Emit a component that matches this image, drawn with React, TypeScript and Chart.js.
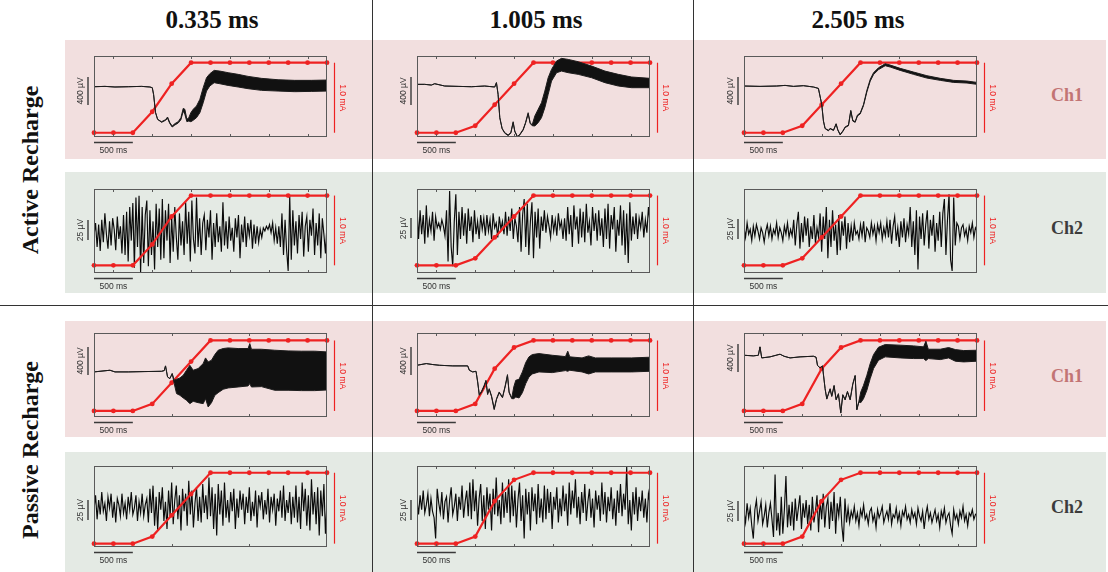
import React, { useEffect, useRef } from "react";
import { Chart, registerables } from "chart.js";

Chart.register(...registerables);

// ---------------- text ----------------
const columnTitles = ["0.335 ms", "1.005 ms", "2.505 ms"];
const rowTitles = ["Active Recharge", "Passive Recharge"];
const channelNames = ["Ch1", "Ch2"];
const barLabelCh1 = "400 µV";
const barLabelCh2 = "25 µV";
const barLabelTime = "500 ms";
const barLabelCurrent = "1.0 mA";
const barValueCh1 = 400; // µV
const barValueCh2 = 25; // µV
const barValueTime = 500; // ms
const barValueCurrent = 1.0; // mA

// ---------------- stimulation ramp (mA), marker every 250 ms ----------------
const rampTimesMs = [0, 250, 500, 750, 1000, 1250, 1500, 1750, 2000, 2250, 2500, 2750, 3000];
const rampActiveShort = [0, 0, 0, 0.3, 0.7, 1, 1, 1, 1, 1, 1, 1, 1];
const rampMedium = [0, 0, 0, 0.1, 0.4, 0.7, 1, 1, 1, 1, 1, 1, 1];
const rampPassiveLong = [0, 0, 0, 0.1, 0.6, 0.9, 1, 1, 1, 1, 1, 1, 1];

const ticksOdd = [250, 750, 1250, 1750, 2250, 2750];
const ticksSecond = [1000, 2000];

// ---------------- Ch1 traces: time (ms), upper / lower envelope (µV above box floor) ----------------
const ch1ActiveA_t = [0, 141, 270, 441, 613, 720, 750, 767, 793, 819, 870, 921, 947, 977, 1007, 1041, 1084, 1119, 1149, 1170, 1196, 1221, 1247, 1277, 1320, 1363, 1406, 1449, 1491, 1547, 1620, 1727, 1856, 1984, 2156, 2370, 2584, 2799, 3000];
const ch1ActiveA_hi = [720, 725, 716, 720, 725, 716, 706, 611, 348, 253, 219, 248, 286, 205, 157, 191, 219, 277, 410, 396, 253, 277, 348, 396, 444, 539, 706, 849, 906, 954, 944, 921, 897, 868, 840, 820, 811, 811, 816];
const ch1ActiveA_lo = [720, 725, 716, 720, 725, 716, 706, 611, 348, 253, 210, 239, 267, 191, 143, 172, 200, 248, 372, 324, 219, 229, 219, 239, 277, 348, 491, 658, 730, 778, 763, 739, 716, 692, 668, 658, 649, 653, 658];

const ch1ActiveB_t = [0, 99, 185, 228, 357, 529, 701, 872, 1001, 1023, 1044, 1066, 1096, 1130, 1173, 1208, 1238, 1259, 1294, 1324, 1367, 1397, 1431, 1457, 1483, 1517, 1560, 1603, 1646, 1689, 1732, 1797, 1861, 1947, 2076, 2248, 2420, 2592, 2764, 3000];
const ch1ActiveB_hi = [754, 754, 744, 763, 730, 725, 720, 730, 716, 778, 611, 277, 124, 62, 29, 62, 219, 86, 5, 38, 110, 205, 348, 205, 172, 300, 396, 491, 658, 849, 968, 1088, 1126, 1111, 1078, 1016, 944, 897, 859, 840];
const ch1ActiveB_lo = [754, 754, 744, 763, 730, 725, 720, 730, 716, 778, 611, 277, 118, 55, 20, 55, 205, 76, 0, 30, 100, 195, 330, 195, 162, 157, 205, 277, 420, 611, 801, 921, 944, 921, 897, 849, 778, 730, 706, 706];

const ch1ActiveC_t = [0, 206, 421, 529, 636, 765, 894, 958, 1001, 1023, 1044, 1087, 1109, 1152, 1186, 1208, 1238, 1272, 1302, 1345, 1375, 1401, 1431, 1461, 1496, 1539, 1582, 1625, 1668, 1732, 1818, 1883, 2011, 2183, 2355, 2527, 2699, 2871, 3000];
const ch1ActiveC_hi = [730, 725, 730, 739, 725, 735, 716, 696, 467, 229, 124, 95, 124, 100, 191, 105, 38, 86, 143, 172, 382, 239, 219, 315, 343, 467, 668, 825, 921, 992, 1049, 1030, 983, 930, 878, 840, 811, 801, 782];
const ch1ActiveC_lo = [730, 725, 730, 739, 725, 735, 716, 696, 467, 229, 120, 88, 117, 93, 182, 98, 30, 78, 135, 162, 368, 228, 210, 302, 330, 450, 645, 800, 895, 965, 1021, 1002, 954, 897, 844, 811, 782, 773, 754];

const ch1PassiveA_t = [0, 206, 270, 441, 656, 870, 904, 921, 947, 977, 1007, 1033, 1063, 1106, 1149, 1191, 1234, 1277, 1341, 1406, 1436, 1470, 1513, 1556, 1599, 1663, 1727, 1856, 1984, 2006, 2027, 2156, 2327, 2499, 2670, 2842, 3000];
const ch1PassiveA_hi = [644, 668, 644, 644, 649, 653, 663, 730, 572, 549, 620, 525, 539, 558, 596, 668, 739, 668, 692, 763, 844, 787, 811, 892, 954, 978, 987, 978, 978, 1049, 968, 968, 954, 944, 940, 940, 930];
const ch1PassiveA_lo = [644, 668, 644, 644, 649, 653, 663, 730, 572, 549, 620, 477, 334, 310, 272, 239, 191, 224, 205, 191, 262, 143, 205, 310, 348, 396, 415, 429, 444, 477, 429, 434, 382, 382, 377, 377, 386];

const ch1PassiveB_t = [0, 119, 205, 290, 461, 653, 674, 717, 760, 781, 802, 832, 862, 888, 909, 930, 960, 994, 1024, 1058, 1101, 1135, 1165, 1186, 1220, 1246, 1272, 1314, 1357, 1400, 1442, 1485, 1570, 1741, 1912, 1941, 1967, 2125, 2210, 2296, 2509, 2765, 3000];
const ch1PassiveB_hi = [739, 763, 749, 739, 730, 730, 668, 644, 653, 501, 320, 367, 444, 525, 334, 405, 301, 119, 262, 358, 286, 444, 606, 358, 272, 429, 525, 539, 644, 778, 859, 892, 906, 882, 863, 940, 859, 844, 873, 844, 844, 844, 854];
const ch1PassiveB_lo = [739, 763, 749, 739, 730, 730, 668, 644, 653, 501, 310, 355, 430, 510, 320, 392, 290, 105, 250, 345, 275, 430, 590, 345, 262, 262, 286, 272, 348, 477, 572, 615, 644, 634, 663, 653, 668, 644, 615, 644, 644, 644, 653];

const ch1PassiveC_t = [0, 120, 185, 206, 228, 335, 464, 516, 593, 722, 894, 928, 946, 980, 1010, 1044, 1066, 1087, 1109, 1130, 1160, 1186, 1216, 1246, 1272, 1302, 1332, 1367, 1401, 1431, 1453, 1479, 1504, 1539, 1582, 1625, 1668, 1732, 1818, 2011, 2183, 2312, 2342, 2373, 2527, 2635, 2721, 2828, 3000];
const ch1PassiveC_hi = [882, 873, 882, 1002, 844, 859, 897, 868, 844, 859, 868, 854, 739, 701, 730, 405, 262, 334, 405, 301, 453, 253, 334, 62, 320, 253, 367, 253, 477, 596, 110, 224, 358, 453, 596, 763, 892, 997, 1035, 1026, 1016, 1002, 1083, 968, 968, 992, 963, 949, 954];
const ch1PassiveC_lo = [882, 873, 882, 1002, 844, 859, 897, 868, 844, 859, 868, 854, 739, 701, 730, 405, 255, 325, 395, 292, 440, 243, 325, 55, 310, 243, 355, 243, 465, 585, 100, 214, 205, 262, 382, 549, 692, 811, 859, 844, 835, 835, 806, 835, 820, 844, 797, 787, 797];

// ---------------- Ch2 traces (µV), evenly sampled over 0–3000 ms ----------------
const ch2ActiveA = [-6, 10, -20, 8, -25, 14, -14, 22, -4, -22, 12, -18, 16, 2, -24, 18, -10, 6, -28, 20,
  -30, 24, -38, 30, -12, 35, -46, 42, -20, 44, -52, 30, -40, 20, 38, -44, 26, -30, 12, -48, 34, -20, 28, -36, 40,
  -34, 26, -12, 34, -40, 18, -26, 30, -8, -36, 22, -18, 12, -30, 36, -16, 24, -38, 38, -10,
  -28, 42, -20, 16, -30, 10, 20, -24, 14, -8, 26, -36, 10, -20, 22, -14, 6, -26, 36, -18,
  12, -22, 18, -12, 4, -26, 16, -8, 20, -34, 8, -14, 18, -20, 10, -6, 14, -22, 8, -16,
  6, -14, 2, -8, 4, 0, 6, 2, 8, -2, 10, -12, 4, -16, 6,
  -20, 22, -30, 14, -24, -50, 44, -36, 26, -18,
  12, -28, 20, -10, 24, -32, 6, 18, -26, 14, -6, 28, -30, 10, -18, 22, -34, 16, -4, -28, 8];
const ch2ActiveB = [30, -10, 26, -4, 20, -16, 32, -8, 14, 0, 24, -12, 18, 4,
  10, 2, 14, 6,
  -6, 26, -38, 50, -20, -44, 12, 46, -30, 24,
  -10, 30, -6, 22, -16, 28, 0, 18, -14, 26, -4, 12, -10, 20,
  2, 16, -6, 20, 0, 14, -10, 22, 4, 10, -8, 18, 2, 12, -4,
  24, -6, 18, 0, 28, -10, 16, 6,
  -14, 30, -26, 20, 40, -20, 34, -30, 12, 36, -34, 24, -8, 28, -22, 18, 0, 26,
  -2, 18, 6, -8, 20, 0, 14, -6, 22, 4, 12, -10, 16,
  -12, 30, -4, 20, -20, 32, 2, 18, -16, 28, -8, 24, -14, 34, -2, 12, -18, 30, 0, 22, -12, 26, -6, 16, -20, 28,
  -10, 34, -22, 20, 2, 30, -26, 14, -6, 32, -18, 26, -30, 22, -40, 36, -12, 18,
  -4, 22, -10, 16, 4, 24, -8, 14, -2, 30, 10];
const ch2ActiveC = [4, -8, 10, -4, 2, -12, 6, -6, 8, 0, -10, 4, -2, -14, 0, 8, -6, 6, -10, 2, -4, 10, -8, 4, -2, -12, 6, -4, 10, -8, 2, -6,
  14, -18, 8, 24, -22, 10, -14, 18, -6, 16, -20, 6, -10, 20, -16, 4, -8,
  22, -26, 18, -10, 30, -34, 14, -20, 26, -12, 8, -30, 20, -24, 12, -6, 18, -22, 10, -14,
  6, -12, 10, -4, 0, -10, 8, -6, 12, -14, 4, 0, -8, 10, -4, 6, -12, 8, -2, 10, -10, 4, -6, 12, -8,
  14, -16, 6, 18, -12, 4, -20, 12, -8, 16, -14, 8, -4,
  30, -20, 12, -30, 26, -48, 18,
  -10, 22, -18, 8, 26, -22, 14, -6, 20, -26, 10, -12, 24,
  -20, 22, 40, -30, 14, 46, -36, -50, 42, -18, 10,
  6, -10, 4, 8, -6, 2, -12, 6, -2, 10, -8, 4, 0];
const ch2PassiveA = [-4, 14, -16, 8, -10, 18, -6, 4, -18, 12, -2, 16, -14, 6, -20, 10, 2, -12, 16, -8, 4, -16, 12, -4, 18, -10, -2, 14, -18, 6, -8, 16, -12, 2, 10,
  -20, 22, -8, 26, -24, 12, -30, 18, -4, 24, -18, 6, -28, 20, -12, 30, -22, 8, 26, -16, 14, -30, 22, -6, 16, -24, 32, -10, 20, -26, 4, 24, -18, 12, -20, 28, -8, 14,
  -16, 36, -12, 24, -28, 16, -36, 28, -10, 20, -24, 30, -14, 8,
  -20, 18, -6, 22, -28, 10, -14, 20, -4, 16, -22, 12, -8, 24, -18, 6, -12, 20, -26, 14, 0, 18, -16, 8, -10, 22, -20, 12, -4, 16, -24, 10, -6, 20, -14, 26, -18, 8, -8, 18, -22, 12,
  -14, 26, -20, 12, -28, 30, -6, 22, -24, 14, -30, 34, -10, 18, -22, 24, -36, 20, -12, 28, -34, 6];
const ch2PassiveB = [8, -10, 14, -4, 20, -8, 2, 16, -12, 10, -6, -14, -40, 22, 4, -8, 18, -16, 6, 12, -20, 8, 24, -10, 0, 16, -18, 12, -4, 26, -14, 6, 20, -12,
  30, -16, 34, -6, 20, -24, 10, 28, -18, 14, -28, 24, -4, 16, -30, 22, -10, 36, -12, 8, -22, 30, -14, 18, -8, 34, -20, 26,
  -12, 20, -26, 8, 30, -18, 14, -40, 22, -10, 18, -30, 24, -6, 16, -22, 28, -14, 10, -20, 26,
  -16, 22, -8, 18, -28, 12, -4, 24, -20, 10, -12, 26, -6, 16, -24, 30, -10, 20, -2, 34, -14, 12, -22, 18, -8, 28, -18, 6, 22, -14, 10, -26, 20, -4, 14, -18, 30, -10,
  18, -20, 12, -6, 24, -16, 10, -24, 20, -8, 28, -12, 16, -4, 50, -22, 8, -30, 18, -10, 24, -18, 12, -6, 20, -14, 10, -20, 16, 4];
const ch2PassiveC = [-6, -20, 4, -14, -2, -24, -40, -4, 8, -18, -6, 6, -22, -12, 2, -26, -8, 4, -16,
  -38, 40, -30, -8, -36, 12, -34, -4, 38, -26, 2,
  -24, 6, -30, 10, -18, -2, 14, -28, 4, -14, 8, -22,
  2, -30, 12, -20, -6, 14, -32, 8, -16, 16, -26, 0, 10, -28, 6, -18, 18, -34, 4, -12, 12, -24, -44, 10, -20,
  -2, -20, -6, -14, 0, -18, -8, -24, -4, -12, 2, -16, -10, -22, -6, -2, -18, -10, -26, -4, -14, -8, 0, -20, -12, -6, -16, 4, -22, -10, -14, -2, -18, -8, -24, -6, -12, 0, -16, -10, -20, -4, -14, -8, -22, -2, -12, -18, -6, -28, -10, 0, -16, -8, -20, -12, -4, -18, -10, -26, -6, -14, -2, -20, -12, -8, -24, -34, -4, -16, -10, -22, -6, -14, 0, -18, -10, -24, -8, -12, -4, -16, -10, -8];

// ---------------- layout ----------------
const COL_LEFT = [94, 417, 744];
const ROW_TOP = [56, 189, 333, 466];
const ROW_H = [81, 84, 84, 81];
const BOX_W = 233;
const PAD_L = 32, PAD_R = 32, PAD_T = 6, PAD_B = 22;
const RED = "#ee2222";
const PINK = "#f2dfdf";
const GREEN = "#e4eae4";

type PanelSpec = {
  col: number; row: number;
  kind: "ch1" | "ch2";
  t?: number[]; hi?: number[]; lo?: number[];
  trace?: number[];
  ramp: number[];
  ticks: number[];
  yMin: number; yMax: number;
  rMin: number; rMax: number;
  barTop: number;
};

const R1: [number, number] = [-0.061, 1.096];
const R2: [number, number] = [-0.11, 1.094];
const R3: [number, number] = [-0.086, 1.106];
const R4: [number, number] = [-0.047, 1.095];

const panels: PanelSpec[] = [
  { col: 0, row: 0, kind: "ch1", t: ch1ActiveA_t, hi: ch1ActiveA_hi, lo: ch1ActiveA_lo, ramp: rampActiveShort, ticks: ticksOdd, yMin: 0, yMax: 1160, rMin: R1[0], rMax: R1[1], barTop: 21 },
  { col: 1, row: 0, kind: "ch1", t: ch1ActiveB_t, hi: ch1ActiveB_hi, lo: ch1ActiveB_lo, ramp: rampMedium, ticks: ticksOdd, yMin: 0, yMax: 1160, rMin: R1[0], rMax: R1[1], barTop: 21 },
  { col: 2, row: 0, kind: "ch1", t: ch1ActiveC_t, hi: ch1ActiveC_hi, lo: ch1ActiveC_lo, ramp: rampMedium, ticks: ticksSecond, yMin: 0, yMax: 1160, rMin: R1[0], rMax: R1[1], barTop: 21 },
  { col: 0, row: 1, kind: "ch2", trace: ch2ActiveA, ramp: rampActiveShort, ticks: ticksOdd, yMin: -52.5, yMax: 52.5, rMin: R2[0], rMax: R2[1], barTop: 31 },
  { col: 1, row: 1, kind: "ch2", trace: ch2ActiveB, ramp: rampMedium, ticks: ticksOdd, yMin: -52.5, yMax: 52.5, rMin: R2[0], rMax: R2[1], barTop: 29 },
  { col: 2, row: 1, kind: "ch2", trace: ch2ActiveC, ramp: rampMedium, ticks: ticksSecond, yMin: -52.5, yMax: 52.5, rMin: R2[0], rMax: R2[1], barTop: 30 },
  { col: 0, row: 2, kind: "ch1", t: ch1PassiveA_t, hi: ch1PassiveA_hi, lo: ch1PassiveA_lo, ramp: rampMedium, ticks: ticksSecond, yMin: 0, yMax: 1200, rMin: R3[0], rMax: R3[1], barTop: 14 },
  { col: 1, row: 2, kind: "ch1", t: ch1PassiveB_t, hi: ch1PassiveB_hi, lo: ch1PassiveB_lo, ramp: rampPassiveLong, ticks: ticksOdd, yMin: 0, yMax: 1200, rMin: R3[0], rMax: R3[1], barTop: 14 },
  { col: 2, row: 2, kind: "ch1", t: ch1PassiveC_t, hi: ch1PassiveC_hi, lo: ch1PassiveC_lo, ramp: rampPassiveLong, ticks: ticksOdd, yMin: 0, yMax: 1200, rMin: R3[0], rMax: R3[1], barTop: 11 },
  { col: 0, row: 3, kind: "ch2", trace: ch2PassiveA, ramp: rampMedium, ticks: ticksSecond, yMin: -50.5, yMax: 50.5, rMin: R4[0], rMax: R4[1], barTop: 34 },
  { col: 1, row: 3, kind: "ch2", trace: ch2PassiveB, ramp: rampPassiveLong, ticks: ticksOdd, yMin: -50.5, yMax: 50.5, rMin: R4[0], rMax: R4[1], barTop: 34 },
  { col: 2, row: 3, kind: "ch2", trace: ch2PassiveC, ramp: rampPassiveLong, ticks: ticksOdd, yMin: -50.5, yMax: 50.5, rMin: R4[0], rMax: R4[1], barTop: 35 },
];

function Panel({ spec }: { spec: PanelSpec }) {
  const ref = useRef<HTMLCanvasElement | null>(null);
  const W = BOX_W + PAD_L + PAD_R;
  const H = ROW_H[spec.row] + PAD_T + PAD_B;
  const left = COL_LEFT[spec.col] - PAD_L;
  const top = ROW_TOP[spec.row] - PAD_T;

  useEffect(() => {
    const canvas = ref.current;
    if (!canvas) return;
    const datasets: any[] = [];
    if (spec.kind === "ch1") {
      const t = spec.t as number[];
      const lo = spec.lo as number[];
      const hi = spec.hi as number[];
      datasets.push({
        data: t.map((x, i) => ({ x, y: lo[i] })),
        borderColor: "#1c1c1c", borderWidth: 1, pointRadius: 0, fill: false,
        yAxisID: "yB", order: 1, tension: 0,
      });
      datasets.push({
        data: t.map((x, i) => ({ x, y: hi[i] })),
        borderColor: "#1c1c1c", borderWidth: 1, pointRadius: 0, fill: "-1",
        backgroundColor: "#111111", yAxisID: "yB", order: 1, tension: 0,
      });
    } else {
      const tr = spec.trace as number[];
      const dt = 3000 / (tr.length - 1);
      datasets.push({
        data: tr.map((y, i) => ({ x: i * dt, y })),
        borderColor: "#0a0a0a", borderWidth: 1.15, pointRadius: 0, fill: false,
        yAxisID: "yB", order: 2, tension: 0,
      });
    }
    datasets.push({
      data: rampTimesMs.map((x, i) => ({ x, y: spec.ramp[i] })),
      borderColor: RED, backgroundColor: RED, borderWidth: 2.2,
      pointRadius: 2.4, pointBorderWidth: 0, pointHoverRadius: 0,
      yAxisID: "yR", clip: false, fill: false, tension: 0,
      order: spec.kind === "ch1" ? 2 : 0,
    });

    const decor = {
      id: "decor",
      afterDatasetsDraw(chart: any) {
        const { ctx, chartArea: a, scales } = chart;
        const xs = scales.x, yB = scales.yB, yR = scales.yR;
        ctx.save();
        // frame
        ctx.strokeStyle = "#5a5a5a";
        ctx.lineWidth = 1;
        ctx.strokeRect(a.left + 0.5, a.top + 0.5, a.right - a.left - 1, a.bottom - a.top - 1);
        // inward ticks
        ctx.beginPath();
        for (const tv of spec.ticks) {
          const px = Math.round(xs.getPixelForValue(tv)) + 0.5;
          ctx.moveTo(px, a.top);
          ctx.lineTo(px, a.top + 3);
          ctx.moveTo(px, a.bottom);
          ctx.lineTo(px, a.bottom - 3);
        }
        ctx.stroke();

        ctx.font = "8.5px 'Liberation Sans', Arial, sans-serif";
        ctx.textAlign = "center";
        ctx.textBaseline = "middle";

        // amplitude bar
        const bv = spec.kind === "ch1" ? barValueCh1 : barValueCh2;
        const blen = yB.getPixelForValue(0) - yB.getPixelForValue(bv);
        const bx = a.left - 6;
        const by0 = a.top + spec.barTop;
        ctx.strokeStyle = "#3a3a3a";
        ctx.lineWidth = 1.4;
        ctx.beginPath();
        ctx.moveTo(bx, by0);
        ctx.lineTo(bx, by0 + blen);
        ctx.stroke();
        ctx.fillStyle = "#333333";
        ctx.save();
        ctx.translate(a.left - 13.5, by0 + blen / 2);
        ctx.rotate(-Math.PI / 2);
        ctx.fillText(spec.kind === "ch1" ? barLabelCh1 : barLabelCh2, 0, 0);
        ctx.restore();

        // time bar
        const tx0 = xs.getPixelForValue(0);
        const tx1 = xs.getPixelForValue(barValueTime);
        ctx.beginPath();
        ctx.moveTo(tx0, a.bottom + 5.5);
        ctx.lineTo(tx1, a.bottom + 5.5);
        ctx.stroke();
        ctx.fillText(barLabelTime, (tx0 + tx1) / 2, a.bottom + 14);

        // current bar
        const r0 = yR.getPixelForValue(0);
        const r1 = yR.getPixelForValue(barValueCurrent);
        const rx = a.right + 7.5;
        ctx.strokeStyle = RED;
        ctx.lineWidth = 1.2;
        ctx.beginPath();
        ctx.moveTo(rx, r0);
        ctx.lineTo(rx, r1);
        ctx.stroke();
        ctx.fillStyle = RED;
        ctx.save();
        ctx.translate(a.right + 15.5, (r0 + r1) / 2);
        ctx.rotate(Math.PI / 2);
        ctx.fillText(barLabelCurrent, 0, 0);
        ctx.restore();
        ctx.restore();
      },
    };

    const chart = new Chart(canvas, {
      type: "line",
      data: { datasets },
      options: {
        responsive: false,
        animation: false,
        devicePixelRatio: 1,
        events: [],
        layout: { padding: { left: PAD_L, right: PAD_R, top: PAD_T, bottom: PAD_B } },
        scales: {
          x: { type: "linear", min: 0, max: 3000, display: false },
          yB: { type: "linear", min: spec.yMin, max: spec.yMax, display: false },
          yR: { type: "linear", min: spec.rMin, max: spec.rMax, display: false },
        },
        plugins: { legend: { display: false }, tooltip: { enabled: false } },
      } as any,
      plugins: [decor],
    });
    return () => chart.destroy();
  }, [spec]);

  return (
    <canvas
      ref={ref}
      width={W}
      height={H}
      style={{ position: "absolute", left, top, width: W, height: H }}
    />
  );
}

const BANDS = [
  { top: 40, bottom: 159, color: PINK },
  { top: 172, bottom: 293, color: GREEN },
  { top: 321, bottom: 437, color: PINK },
  { top: 452, bottom: 572, color: GREEN },
];
const HEADER_X = [212, 536, 858];
const ROW_LABEL_Y = [170, 450];
const CH_LABEL_Y = [95, 228, 376, 507];

export default function App() {
  const serif = "'Liberation Serif', 'Times New Roman', serif";
  return (
    <div style={{ position: "absolute", left: 0, top: 0, width: 1108, height: 572, background: "#ffffff", overflow: "hidden", fontFamily: serif }}>
      {BANDS.map((b, i) => (
        <div key={"b" + i} style={{ position: "absolute", left: 65, top: b.top, width: 1106 - 65, height: b.bottom - b.top, background: b.color }} />
      ))}
      <div style={{ position: "absolute", left: 371.5, top: 0, width: 1.5, height: 572, background: "#333" }} />
      <div style={{ position: "absolute", left: 692.5, top: 0, width: 1.5, height: 572, background: "#333" }} />
      <div style={{ position: "absolute", left: 0, top: 304.5, width: 1108, height: 1.5, background: "#333" }} />
      {columnTitles.map((t, i) => (
        <div key={"h" + i} style={{ position: "absolute", left: HEADER_X[i], top: 20, transform: "translate(-50%, -50%)", fontWeight: "bold", fontSize: 25, whiteSpace: "nowrap", color: "#111" }}>{t}</div>
      ))}
      {rowTitles.map((t, i) => (
        <div key={"r" + i} style={{ position: "absolute", left: 30, top: ROW_LABEL_Y[i], transform: "translate(-50%, -50%) rotate(-90deg)", fontWeight: "bold", fontSize: 24, whiteSpace: "nowrap", color: "#111" }}>{t}</div>
      ))}
      {CH_LABEL_Y.map((y, i) => (
        <div key={"c" + i} style={{ position: "absolute", left: 1067, top: y, transform: "translate(-50%, -50%)", fontWeight: "bold", fontSize: 18, whiteSpace: "nowrap", color: i % 2 === 0 ? "#c27474" : "#3c3c3c" }}>{channelNames[i % 2]}</div>
      ))}
      {panels.map((p, i) => (
        <Panel key={"p" + i} spec={p} />
      ))}
    </div>
  );
}
